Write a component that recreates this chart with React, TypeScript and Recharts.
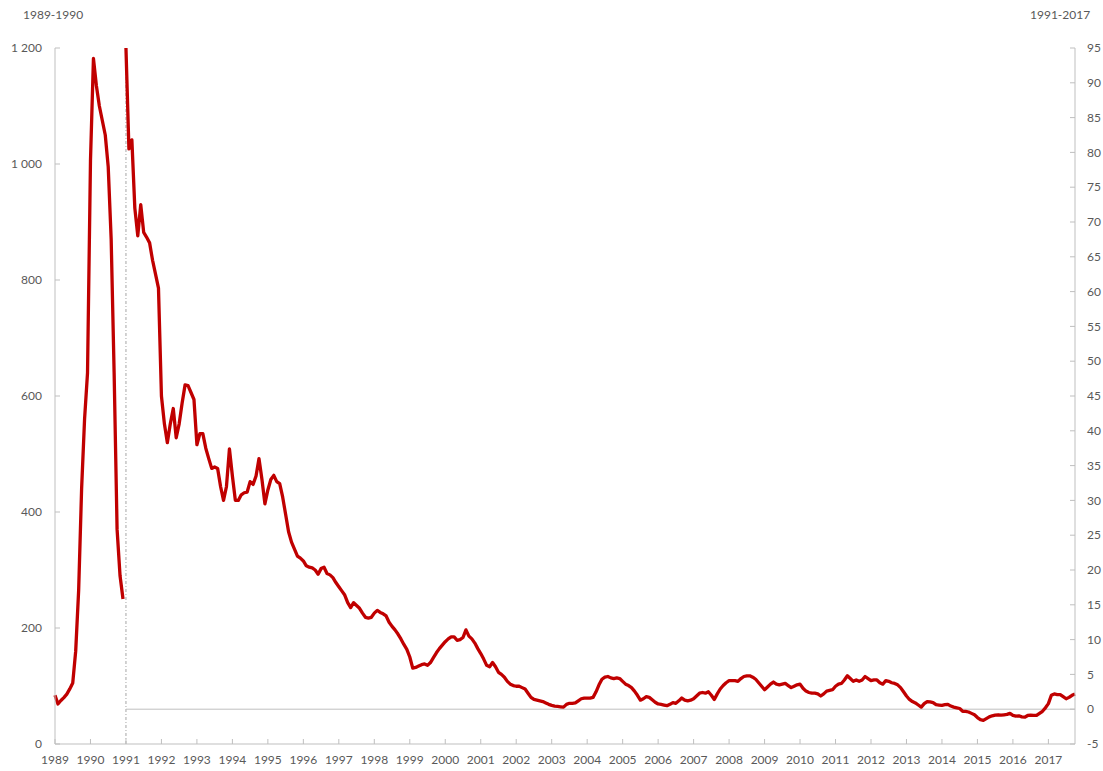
import { LineChart, Line, XAxis, YAxis, ReferenceLine } from "recharts";

// monthly values, Jan 1989 - Dec 1990 (left axis)
const early = [
  84, 69, 75, 80, 86, 95, 105, 160, 265, 440, 560, 640,
  1005, 1182, 1135, 1100, 1075, 1050, 995, 870, 640, 370, 290, 250,
];

// monthly values, Jan 1991 - Oct 2017 (right axis)
const late = [
  95, 80.5, 81.8, 72, 68, 72.5, 68.5, 67.8, 67, 64.5, 62.5, 60.5, // 1991
  45, 41, 38.3, 41, 43.2, 39, 41, 44, 46.6, 46.5, 45.5, 44.5, // 1992
  38, 39.6, 39.6, 37.5, 36, 34.6, 34.8, 34.6, 32, 30, 32, 37.4, // 1993
  33.5, 30, 30, 30.8, 31.1, 31.2, 32.7, 32.3, 33.5, 36, 33, 29.5, // 1994
  31.5, 33, 33.6, 32.7, 32.4, 30.5, 28, 25.5, 24, 23, 22, 21.7, // 1995
  21.3, 20.6, 20.4, 20.3, 20, 19.4, 20.2, 20.4, 19.5, 19.3, 18.9, 18.2, // 1996
  17.6, 17, 16.4, 15.3, 14.6, 15.3, 14.9, 14.5, 13.8, 13.2, 13.1, 13.2, // 1997
  13.8, 14.2, 13.9, 13.7, 13.4, 12.5, 11.9, 11.4, 10.8, 10.1, 9.3, 8.6, // 1998
  7.5, 5.9, 6, 6.2, 6.4, 6.5, 6.3, 6.7, 7.4, 8.1, 8.7, 9.2, // 1999
  9.7, 10.1, 10.4, 10.4, 9.9, 10, 10.3, 11.4, 10.5, 10.1, 9.5, 8.7, // 2000
  8, 7.2, 6.3, 6.1, 6.7, 6.1, 5.3, 5, 4.6, 4, 3.6, 3.4, // 2001
  3.3, 3.3, 3.1, 2.9, 2.3, 1.7, 1.4, 1.3, 1.2, 1.1, 0.9, 0.7, // 2002
  0.55, 0.45, 0.4, 0.35, 0.3, 0.7, 0.85, 0.85, 0.9, 1.2, 1.5, 1.6, // 2003
  1.6, 1.6, 1.7, 2.5, 3.5, 4.3, 4.6, 4.7, 4.5, 4.4, 4.5, 4.4, // 2004
  4, 3.6, 3.4, 3.1, 2.6, 2, 1.3, 1.5, 1.8, 1.7, 1.35, 1, // 2005
  0.75, 0.7, 0.6, 0.5, 0.7, 0.95, 0.85, 1.2, 1.6, 1.3, 1.2, 1.3, // 2006
  1.5, 1.9, 2.3, 2.4, 2.3, 2.5, 2, 1.4, 2.2, 2.9, 3.4, 3.8, // 2007
  4.1, 4.1, 4.1, 4, 4.4, 4.7, 4.8, 4.8, 4.6, 4.3, 3.8, 3.3, // 2008
  2.8, 3.2, 3.6, 3.9, 3.6, 3.5, 3.6, 3.7, 3.4, 3.1, 3.3, 3.5, // 2009
  3.6, 3, 2.6, 2.4, 2.3, 2.3, 2.2, 1.9, 2.2, 2.6, 2.7, 2.8, // 2010
  3.3, 3.6, 3.7, 4.2, 4.8, 4.4, 4, 4.2, 4, 4.2, 4.7, 4.4, // 2011
  4.1, 4.2, 4.2, 3.8, 3.6, 4.1, 4, 3.8, 3.7, 3.5, 3.1, 2.5, // 2012
  1.9, 1.4, 1.1, 0.9, 0.6, 0.3, 0.8, 1.1, 1.05, 0.95, 0.65, 0.6, // 2013
  0.55, 0.65, 0.7, 0.45, 0.3, 0.2, 0.1, -0.3, -0.3, -0.4, -0.6, -0.8, // 2014
  -1.2, -1.5, -1.6, -1.35, -1.1, -0.95, -0.85, -0.8, -0.85, -0.8, -0.75, -0.6, // 2015
  -0.9, -1, -0.95, -1.1, -1.15, -0.9, -0.85, -0.9, -0.9, -0.6, -0.3, 0.2, // 2016
  0.8, 2, 2.2, 2.1, 2.1, 1.8, 1.5, 1.7, 2, 2.2, // 2017
];

const firstYear = 1989;
const splitMonth = 24; // Jan 1991
const lastMonth = splitMonth + late.length - 1;

const yearTicks = Array.from({ length: 29 }, (_, i) => i * 12);
const leftTicks = [0, 200, 400, 600, 800, 1000, 1200];
const rightTicks = Array.from({ length: 21 }, (_, i) => -5 + i * 5);

const data = Array.from({ length: lastMonth + 1 }, (_, t) => ({
  t,
  early: t < splitMonth ? early[t] : null,
  late: t >= splitMonth ? late[t - splitMonth] : null,
}));

const font = "Lato, 'Open Sans', sans-serif";
const textColor = "#595959";
const axisColor = "#bfbfbf";

const spaced = (v: number) =>
  String(v).replace(/\B(?=(\d{3})+(?!\d))/g, " ");

export default function App() {
  return (
    <div
      style={{
        position: "absolute",
        left: 0,
        top: 0,
        width: 1103,
        height: 771,
        background: "#fff",
        fontFamily: font,
      }}
    >
      <div
        style={{
          position: "absolute",
          left: 23,
          top: 7,
          fontSize: 12,
          color: textColor,
        }}
      >
        1989-1990
      </div>
      <div
        style={{
          position: "absolute",
          left: 1030,
          top: 7,
          fontSize: 12,
          color: textColor,
        }}
      >
        1991-2017
      </div>
      <LineChart
        width={1103}
        height={771}
        data={data}
        margin={{ top: 48, right: 0, bottom: 0, left: 0 }}
      >
        <XAxis
          dataKey="t"
          type="number"
          domain={[0, lastMonth]}
          ticks={yearTicks}
          interval={0}
          tickFormatter={(v) => String(firstYear + v / 12)}
          height={27}
          stroke={axisColor}
          tickSize={-5}
          tickMargin={16}
          tick={{ fill: textColor, fontSize: 12, fontFamily: font }}
        />
        <YAxis
          yAxisId="left"
          domain={[0, 1200]}
          ticks={leftTicks}
          interval={0}
          tickFormatter={spaced}
          width={55}
          stroke={axisColor}
          tickSize={-5}
          tickMargin={18}
          tick={{ fill: textColor, fontSize: 12, fontFamily: font }}
        />
        <YAxis
          yAxisId="right"
          orientation="right"
          domain={[-5, 95]}
          ticks={rightTicks}
          interval={0}
          width={28}
          stroke={axisColor}
          tickSize={-5}
          tickMargin={17}
          tick={{ fill: textColor, fontSize: 12, fontFamily: font }}
        />
        <ReferenceLine
          yAxisId="left"
          x={splitMonth}
          stroke="#a6a6a6"
          strokeDasharray="3 2 1 2"
        />
        <ReferenceLine
          yAxisId="right"
          segment={[
            { x: splitMonth, y: 0 },
            { x: lastMonth, y: 0 },
          ]}
          stroke={axisColor}
        />
        <Line
          yAxisId="left"
          dataKey="early"
          stroke="#c00000"
          strokeWidth={3.3}
          strokeLinejoin="round"
          dot={false}
          activeDot={false}
          isAnimationActive={false}
        />
        <Line
          yAxisId="right"
          dataKey="late"
          stroke="#c00000"
          strokeWidth={3.3}
          strokeLinejoin="round"
          dot={false}
          activeDot={false}
          isAnimationActive={false}
        />
      </LineChart>
    </div>
  );
}
